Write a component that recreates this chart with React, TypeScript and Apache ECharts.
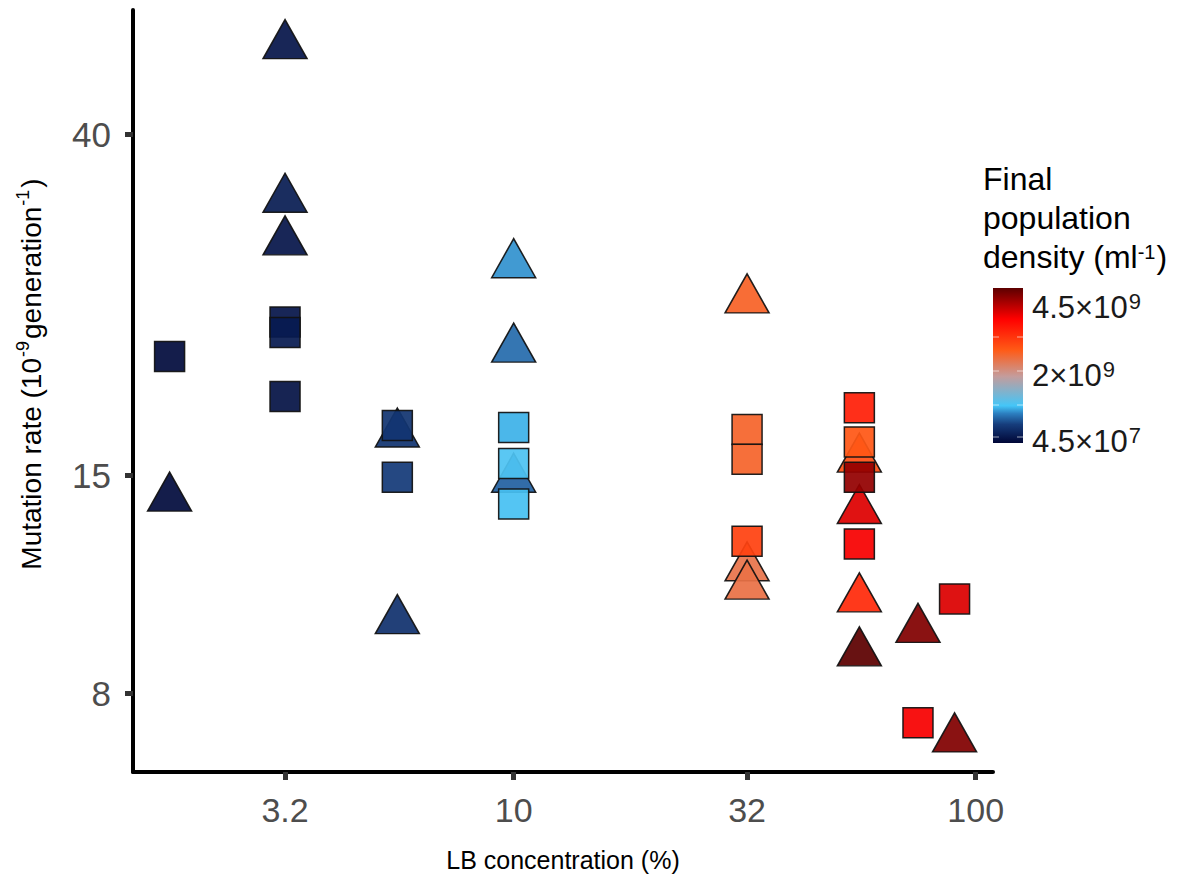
import React, { useEffect, useRef } from "react";
import * as echarts from "echarts";

// LB concentration (%) of each point, mutation rate (1e-9 / generation), final density (1e9 per ml)
const triLB = [1.8, 3.2, 3.2, 3.2, 5.6, 5.6, 10, 10, 10, 32, 32, 32, 56, 56, 56, 56, 75, 90];
const triRate = [14.3, 52.6, 33.8, 29.9, 17.2, 10.05, 28.0, 21.96, 15.1, 25.3, 11.7, 11.1, 16.0, 13.8, 10.7, 9.16, 9.8, 7.15];
const triDensity = [0.1, 0.2, 0.27, 0.2, 0.5, 0.47, 0.95, 0.8, 0.75, 2.62, 2.42, 2.45, 2.81, 3.79, 3.2, 4.5, 4.3, 4.3];

const sqLB = [1.8, 3.2, 3.2, 3.2, 5.6, 5.6, 10, 10, 10, 32, 32, 32, 56, 56, 56, 56, 75, 90];
const sqRate = [21.1, 23.3, 22.6, 18.8, 17.3, 14.9, 17.2, 15.5, 13.8, 17.1, 15.7, 12.4, 18.2, 16.5, 14.9, 12.3, 7.35, 10.5];
const sqDensity = [0.1, 0.2, 0.25, 0.17, 0.5, 0.55, 1.05, 1.17, 1.13, 2.6, 2.6, 2.95, 3.3, 2.75, 4.2, 3.65, 3.65, 3.8];

const xTicks = [3.2, 10, 32, 100];
const yTicks = [8, 15, 40];
const densityMin = 0.045;
const densityMax = 4.5;
const densityLabels: [string, string][] = [["4.5×10", "9"], ["2×10", "9"], ["4.5×10", "7"]];

const rampStops: [number, string][] = [
  [0, "#000636"],
  [0.12, "#163d7c"],
  [0.19, "#2c7fc0"],
  [0.24, "#44c6f8"],
  [0.43, "#c49c9c"],
  [0.6, "#ff5a16"],
  [0.8, "#ff0000"],
  [1, "#5c0000"],
];

function hex(c: string) {
  return [1, 3, 5].map((i) => parseInt(c.slice(i, i + 2), 16));
}
function colorAt(t: number) {
  for (let i = 0; i < rampStops.length - 1; i++) {
    const [a, ca] = rampStops[i];
    const [b, cb] = rampStops[i + 1];
    if (t >= a && t <= b) {
      const k = (t - a) / (b - a);
      const A = hex(ca);
      const B = hex(cb);
      const m = A.map((v, j) => Math.round(v + (B[j] - v) * k));
      return "rgb(" + m.join(",") + ")";
    }
  }
  return rampStops[rampStops.length - 1][1];
}
const ramp = Array.from({ length: 61 }, (_, i) => colorAt(i / 60));

const FONT = "'Liberation Sans', Arial, sans-serif";

export default function App() {
  const ref = useRef<HTMLDivElement>(null);
  useEffect(() => {
    if (!ref.current) return;
    const chart = echarts.init(ref.current, undefined, { renderer: "svg" });
    const tri = triLB.map((x, i) => [x, triRate[i], triDensity[i]]);
    const sq = sqLB.map((x, i) => [x, sqRate[i], sqDensity[i]]);
    const fmt = (v: number) => String(Math.round(v * 10) / 10);
    chart.setOption({
      animation: false,
      backgroundColor: "#ffffff",
      grid: { left: 133, top: 10, right: 196, bottom: 118 },
      visualMap: {
        type: "continuous",
        show: false,
        min: densityMin,
        max: densityMax,
        dimension: 2,
        seriesIndex: [0, 1],
        inRange: { color: ramp },
      },
      xAxis: {
        type: "log",
        logBase: 10,
        min: 1.5,
        max: 109,
        splitLine: { show: false },
        axisLine: { show: true, lineStyle: { color: "#000", width: 4 } },
        axisTick: { show: true, customValues: xTicks, length: 8, lineStyle: { color: "#333", width: 5 } },
        axisLabel: {
          customValues: xTicks,
          formatter: fmt,
          fontSize: 34,
          color: "#4d4d4d",
          margin: 21,
          fontFamily: FONT,
        },
        minorTick: { show: false },
        name: "LB concentration (%)",
        nameLocation: "middle",
        nameGap: 75,
        nameTextStyle: { fontSize: 25, color: "#000", fontFamily: FONT },
      },
      yAxis: {
        type: "log",
        logBase: 10,
        min: 6.38,
        max: 57.2,
        splitLine: { show: false },
        axisLine: { show: true, lineStyle: { color: "#000", width: 4 } },
        axisTick: { show: true, customValues: yTicks, length: 8, lineStyle: { color: "#333", width: 5 } },
        axisLabel: {
          customValues: yTicks,
          formatter: fmt,
          fontSize: 35,
          color: "#4d4d4d",
          margin: 22,
          fontFamily: FONT,
        },
      },
      series: [
        {
          type: "scatter",
          name: "triangle",
          symbol: "triangle",
          symbolSize: [44, 39],
          data: tri,
          itemStyle: { borderColor: "#111", borderWidth: 1.5, opacity: 0.93 },
          z: 2,
        },
        {
          type: "scatter",
          name: "square",
          symbol: "rect",
          symbolSize: 30,
          data: sq,
          itemStyle: { borderColor: "#111", borderWidth: 1.5, opacity: 0.93 },
          z: 3,
        },
      ],
      graphic: [
        {
          type: "text",
          x: 31,
          y: 374,
          rotation: Math.PI / 2,
          style: {
            text: "{n|Mutation rate (10}{s|-9}{n|generation}{s|-1}{n|)}",
            align: "center",
            verticalAlign: "middle",
            fontFamily: FONT,
            fill: "#000",
            rich: {
              n: { fontSize: 28, lineHeight: 34, fill: "#000", fontFamily: FONT },
              s: { fontSize: 18, verticalAlign: "top", fill: "#000", fontFamily: FONT, padding: [0, 2, 0, 1] },
            },
          },
        },
        {
          type: "text",
          left: 983,
          top: 163,
          style: {
            text: "{n|Final}\n{n|population}\n{n|density (ml}{s|-1}{n|)}",
            fill: "#000",
            fontFamily: FONT,
            rich: {
              n: { fontSize: 32, lineHeight: 39, fill: "#000", fontFamily: FONT },
              s: { fontSize: 20, verticalAlign: "top", fill: "#000", fontFamily: FONT, padding: [4, 1, 0, 0] },
            },
          },
        },
        {
          type: "rect",
          shape: { x: 993, y: 288, width: 30, height: 155 },
          style: {
            fill: new echarts.graphic.LinearGradient(
              0, 1, 0, 0,
              rampStops.map(([o, c]) => ({ offset: o, color: c }))
            ),
          },
        },
        ...[337, 371, 405, 437].flatMap((y) => [
          { type: "line", shape: { x1: 993, y1: y, x2: 999, y2: y }, style: { stroke: "rgba(255,255,255,0.6)", lineWidth: 1 } },
          { type: "line", shape: { x1: 1017, y1: y, x2: 1023, y2: y }, style: { stroke: "rgba(255,255,255,0.6)", lineWidth: 1 } },
        ]),
        ...densityLabels.map((t, i) => ({
          type: "text",
          x: 1032,
          y: [307, 375, 441][i],
          style: {
            text: "{b|" + t[0] + "}{s|" + t[1] + "}",
            fill: "#1a1a1a",
            fontFamily: FONT,
            verticalAlign: "middle",
            rich: {
              b: { fontSize: 31, lineHeight: 36, fill: "#1a1a1a", fontFamily: FONT },
              s: { fontSize: 22, verticalAlign: "top", fill: "#1a1a1a", fontFamily: FONT, padding: [1, 0, 0, 1] },
            },
          },
        })),
      ],
    });
    return () => chart.dispose();
  }, []);
  return <div ref={ref} style={{ width: 1189, height: 890, margin: -8 }} />;
}
